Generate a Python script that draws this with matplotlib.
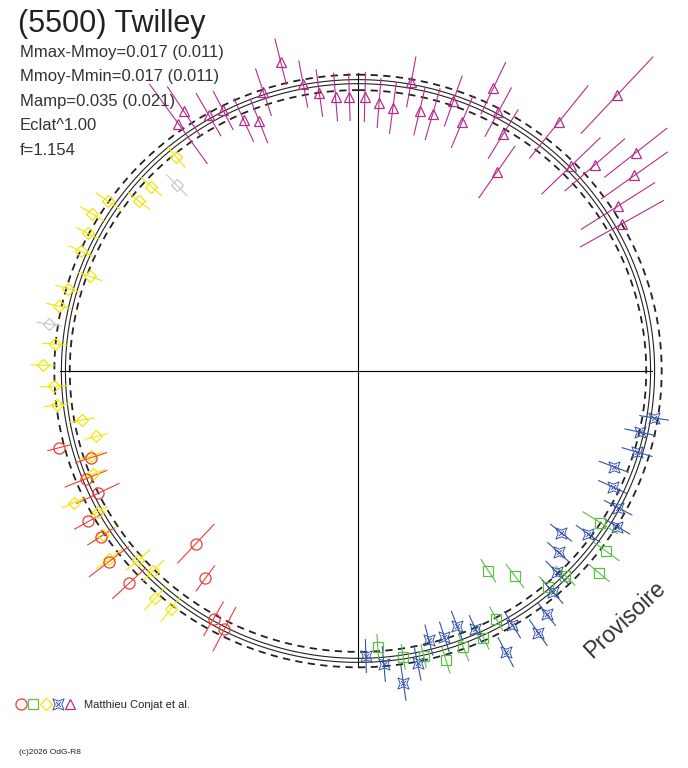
# polar light curve of (5500) Twilley, CdR style
import numpy as np
import matplotlib
matplotlib.use("Agg")
import matplotlib.pyplot as plt
from matplotlib.path import Path
from matplotlib.collections import LineCollection
from matplotlib.legend_handler import HandlerTuple

# rotational phase (0 = top, clockwise), residual magnitude and 1-sigma error per session
red_phase = [0.576, 0.584, 0.601, 0.620, 0.631, 0.646, 0.659, 0.669, 0.680, 0.690, 0.700, 0.710]
red_mag = [0.002, 0.028, 0.223, 0.360, -0.141, -0.152, -0.099, -0.119, 0.023, -0.011, 0.068, -0.119]
red_err = [0.167, 0.133, 0.107, 0.180, 0.153, 0.167, 0.107, 0.107, 0.160, 0.153, 0.113, 0.080]

green_phase = [0.339, 0.350, 0.361, 0.374, 0.385, 0.396, 0.408, 0.419, 0.430, 0.442, 0.453, 0.464, 0.475, 0.4886]
green_mag = [0.033, -0.107, -0.157, -0.002, 0.022, 0.219, 0.350, 0.048, -0.025, -0.031, -0.074, -0.010, 0.010, 0.095]
green_err = [0.140, 0.107, 0.093, 0.093, 0.093, 0.100, 0.093, 0.093, 0.087, 0.100, 0.093, 0.080, 0.087, 0.087]

yellow_phase = [0.606, 0.616, 0.627, 0.637, 0.647, 0.659, 0.671, 0.681, 0.691, 0.701, 0.711, 0.722, 0.732,
                0.742, 0.753, 0.764, 0.784, 0.794, 0.804, 0.815, 0.825, 0.835, 0.845, 0.855, 0.866, 0.888]
yellow_mag = [-0.082, -0.090, 0.035, 0.007, -0.140, -0.081, -0.035, -0.148, 0.045, 0.072, 0.141, 0.071, -0.080,
              -0.089, -0.161, -0.087, -0.100, -0.071, 0.045, -0.070, -0.081, -0.119, -0.075, 0.092, 0.094, 0.067]
yellow_err = [0.107, 0.107, 0.100, 0.107, 0.107, 0.100, 0.080, 0.087, 0.087, 0.087, 0.080, 0.087, 0.087,
              0.093, 0.080, 0.087, 0.087, 0.087, 0.087, 0.093, 0.087, 0.093, 0.100, 0.093, 0.093, 0.093]

gray_phase = [0.774, 0.877]
gray_mag = [-0.143, 0.210]
gray_err = [0.087, 0.100]

blue_phase = [0.275, 0.284, 0.295, 0.307, 0.318, 0.327, 0.336, 0.348, 0.357, 0.367, 0.376, 0.385,
              0.395, 0.404, 0.413, 0.423, 0.432, 0.441, 0.450, 0.459, 0.468, 0.477, 0.486, 0.4956]
blue_mag = [-0.058, 0.015, 0.003, 0.119, 0.073, -0.019, -0.076, 0.061, 0.209, 0.137, 0.054, -0.021,
            -0.112, -0.179, -0.040, -0.177, 0.051, 0.117, 0.076, 0.085, -0.047, -0.161, -0.021, 0.039]
blue_err = [0.100, 0.107, 0.107, 0.107, 0.107, 0.107, 0.100, 0.100, 0.093, 0.100, 0.107, 0.107,
            0.100, 0.107, 0.107, 0.113, 0.100, 0.107, 0.107, 0.107, 0.120, 0.120, 0.120, 0.113]

mag_phase = [0.900, 0.906, 0.916, 0.924, 0.932, 0.940, 0.948, 0.961, 0.970, 0.978, 0.987, 0.995,
             0.004, 0.0125, 0.021, 0.029, 0.037, 0.045, 0.054, 0.063, 0.071, 0.079, 0.0875, 0.097,
             0.108, 0.120, 0.128, 0.136, 0.144, 0.152, 0.160, 0.169]
mag_mag = [-0.097, -0.144, -0.038, -0.016, 0.102, 0.147, -0.023, -0.185, -0.008, 0.069, 0.107, 0.113,
           0.113, 0.148, 0.172, -0.019, 0.159, 0.157, 0.032, 0.141, -0.150, -0.023, 0.088, 0.322,
           -0.193, -0.583, -0.031, -0.153, -0.415, -0.317, -0.113, -0.075]
mag_err = [0.330, 0.200, 0.167, 0.147, 0.160, 0.160, 0.167, 0.160, 0.160, 0.160, 0.163, 0.160,
           0.167, 0.167, 0.173, 0.173, 0.167, 0.180, 0.180, 0.187, 0.193, 0.187, 0.193, 0.213,
           0.313, 0.353, 0.273, 0.267, 0.267, 0.273, 0.293, 0.320]

# fitted model: half amplitude of the 2nd harmonic, and level offsets of the drawn envelopes
model_half_amp = 0.0175
solid_offsets = [-0.020, 0.007]
dashed_offsets = [-0.060, 0.043]

stats_lines = ["Mmax-Mmoy=0.017 (0.011)", "Mmoy-Mmin=0.017 (0.011)",
               "Mamp=0.035 (0.021)", "Eclat^1.00", "f=1.154"]

W, H = 688, 768
CX, CY = 358, 371     # pixel position of the pole
R0 = 291.0            # radius of the zero level (pixels)
SCALE = 150.0         # pixels per magnitude
INK = "#222222"

fig = plt.figure(figsize=(W / 100, H / 100), dpi=100)
ax = fig.add_axes([0, 0, 1, 1])
ax.set_xlim(-CX, W - CX)
ax.set_ylim(-(H - CY), CY)
ax.axis("off")


def to_xy(phase, mag):
    ang = 2 * np.pi * np.asarray(phase, float)
    r = R0 - SCALE * np.asarray(mag, float)
    return r * np.sin(ang), r * np.cos(ang)


# axes cross
ax.plot([-(R0 + 7), R0 + 3], [0, 0], color="black", lw=0.8, zorder=1)
ax.plot([0, 0], [-(R0 + 5), R0 + 7], color="black", lw=0.8, zorder=1)

# model curves
ph = np.linspace(0, 1, 721)
for off in solid_offsets:
    x, y = to_xy(ph, off + model_half_amp * np.cos(4 * np.pi * ph))
    ax.plot(x, y, color=INK, lw=0.8, zorder=2)
for off in dashed_offsets:
    x, y = to_xy(ph, off + 1.4 * model_half_amp * np.cos(4 * np.pi * ph))
    ax.plot(x, y, color=INK, lw=1.3, ls=(0, (4, 3)), zorder=2)

# blue marker: concave four-pointed star with a small cross inside
star = Path(
    [(-1, -1), (0, -0.6), (1, -1), (0.6, 0), (1, 1), (0, 0.6), (-1, 1), (-0.6, 0), (-1, -1),
     (-0.45, -0.45), (0.45, 0.45), (-0.45, 0.45), (0.45, -0.45)],
    [Path.MOVETO] + [Path.LINETO] * 7 + [Path.CLOSEPOLY, Path.MOVETO, Path.LINETO, Path.MOVETO, Path.LINETO],
)

series = [
    (gray_phase, gray_mag, gray_err, "#c8c8c8", "D", 6.5),
    (yellow_phase, yellow_mag, yellow_err, "#f2e600", "D", 6.5),
    (red_phase, red_mag, red_err, "#f03c3c", "o", 8.0),
    (green_phase, green_mag, green_err, "#5cbd45", "s", 7.0),
    (blue_phase, blue_mag, blue_err, "#3553a8", star, 8.0),
    (mag_phase, mag_mag, mag_err, "#b52d8c", "^", 7.5),
]

handles = []
for phase, mag, err, col, mk, ms in series:
    phase = np.asarray(phase)
    mag = np.asarray(mag)
    err = np.asarray(err)
    x0, y0 = to_xy(phase, mag - err)
    x1, y1 = to_xy(phase, mag + err)
    segs = np.stack([np.column_stack([x0, y0]), np.column_stack([x1, y1])], axis=1)
    ax.add_collection(LineCollection(segs, colors=col, linewidths=0.8, zorder=3))
    x, y = to_xy(phase, mag)
    h, = ax.plot(x, y, ls="none", marker=mk, ms=ms, mfc="none", mec=col,
                 mew=0.7 if mk is star else 0.9, zorder=4)
    if col != "#c8c8c8":
        handles.append(h)

# legend row: red, green, yellow, blue, magenta
order = [1, 2, 0, 3, 4]
leg = fig.legend([tuple(handles[i] for i in order)], ["Matthieu Conjat et al."],
                 handler_map={tuple: HandlerTuple(ndivide=None, pad=0.0)},
                 loc="center left", bbox_to_anchor=(14.5 / W, 1 - 705 / H),
                 frameon=False, fontsize=8, handlelength=5.6, handletextpad=0.63,
                 borderpad=0, borderaxespad=0)
for t in leg.get_texts():
    t.set_family("Liberation Sans")
    t.set_color(INK)

# texts
font = "Liberation Sans"
fig.text(18 / W, 1 - 32 / H, "(5500) Twilley", fontsize=22, family=font, color=INK, va="baseline")
for i, line in enumerate(stats_lines):
    fig.text(20 / W, 1 - (57 + 24.5 * i) / H, line, fontsize=12, family=font, color="#333333",
             va="baseline")
fig.text(19 / W, 1 - 754 / H, "(c)2026 OdG-R8", fontsize=6, family=font, color=INK, va="baseline")
fig.text(625 / W, 1 - 620 / H, "Provisoire", fontsize=16.5, family=font, color="#333333",
         rotation=43, rotation_mode="anchor", ha="center", va="center")

fig.savefig("out.png", dpi=100, facecolor="white")
